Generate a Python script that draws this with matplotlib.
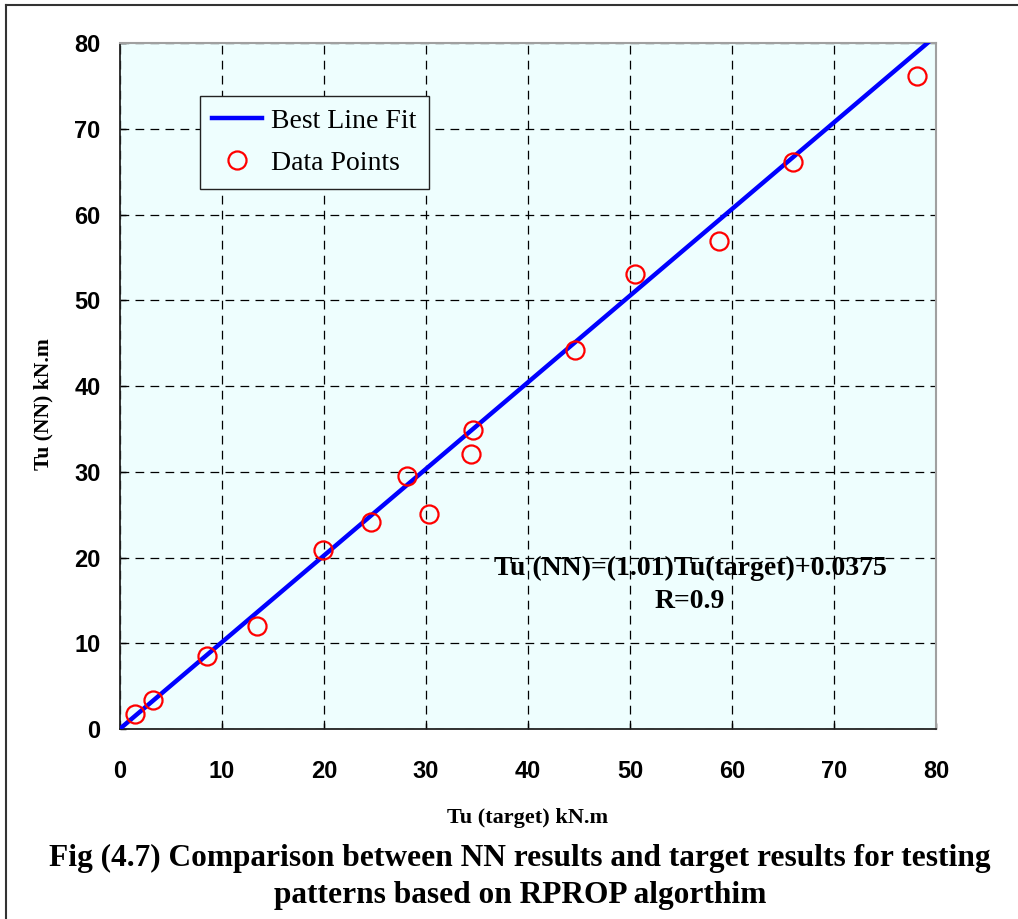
import numpy as np
from matplotlib import pyplot as plt
from matplotlib.lines import Line2D

# target vs. network torque values for the testing patterns (kN.m)
tu_target = [1.5, 3.2, 8.5, 13.4, 19.9, 24.6, 28.1, 30.3, 34.4, 34.6, 44.6, 50.5, 58.7, 66.0, 78.1]
tu_nn = [1.8, 3.4, 8.5, 12.0, 20.9, 24.1, 29.5, 25.1, 32.1, 34.9, 44.2, 53.1, 56.9, 66.1, 76.1]

slope = 1.01
intercept = 0.0375
r_value = 0.9

ticks = np.arange(0, 81, 10)

serif = ['Liberation Serif', 'DejaVu Serif']
narrow = ['Liberation Sans Narrow', 'Liberation Sans', 'DejaVu Sans']

fig = plt.figure(figsize=(10.18, 9.19), dpi=100)
ax = fig.add_axes([0.1179, 0.2067, 0.8015, 0.7465])
ax.set_facecolor('#eefefe')

fit_x = np.array([0, 80])
ax.plot(fit_x, slope * fit_x + intercept, color='#0000ff', lw=3.2, label='Best Line Fit', zorder=3)
ax.plot(tu_target, tu_nn, 'o', ms=13, mfc='none', mec='#ff0000', mew=1.6, label='Data Points', zorder=4)

ax.set_xlim(0, 80)
ax.set_ylim(0, 80)
ax.set_xticks(ticks)
ax.set_yticks(ticks)
ax.grid(True, color='black', ls=(0, (7, 5)), lw=0.9)
ax.tick_params(direction='in', length=4, width=1, labelsize=17)
ax.tick_params(axis='x', pad=22)
ax.tick_params(axis='y', pad=14)
for lab in ax.get_xticklabels() + ax.get_yticklabels():
    lab.set_family(narrow)
    lab.set_fontweight('bold')

for side in ['left', 'bottom']:
    ax.spines[side].set_color('#222222')
    ax.spines[side].set_linewidth(1.3)
for side in ['top', 'right']:
    ax.spines[side].set_color('#a0a0a0')
    ax.spines[side].set_linewidth(1.5)

ax.set_xlabel('Tu (target) kN.m', family=serif, fontweight='bold', fontsize=16, labelpad=18)
ax.set_ylabel('Tu (NN) kN.m', family=serif, fontweight='bold', fontsize=15.5)
ax.yaxis.set_label_coords(-0.081, 0.474)

leg = ax.legend(loc='upper left', bbox_to_anchor=(0.098, 0.9227), borderaxespad=0,
                prop={'family': serif, 'size': 20}, fancybox=False, framealpha=1,
                facecolor='#eefefe', edgecolor='#222222', handlelength=1.8,
                borderpad=0.45, labelspacing=0.6, handletextpad=0.3)
leg.get_frame().set_linewidth(1.0)

ax.text(55.9, 16.8, f'Tu (NN)=({slope})Tu(target)+{intercept}\nR={r_value}',
        ha='center', va='center', family=serif, fontweight='bold', fontsize=20,
        linespacing=1.45)

fig.text(0.511, 0.0457, 'Fig (4.7) Comparison between NN results and target results for testing\n'
         'patterns based on RPROP algorthim',
         ha='center', va='center', family=serif, fontweight='bold', fontsize=22.6,
         linespacing=1.38)

# page frame lines on the left and top
fig.add_artist(Line2D([0.006, 0.006], [0, 0.9945], transform=fig.transFigure, color='#333333', lw=1.5))
fig.add_artist(Line2D([0.006, 1.0], [0.9945, 0.9945], transform=fig.transFigure, color='#333333', lw=1.5))

fig.savefig('out.png', dpi=100)
